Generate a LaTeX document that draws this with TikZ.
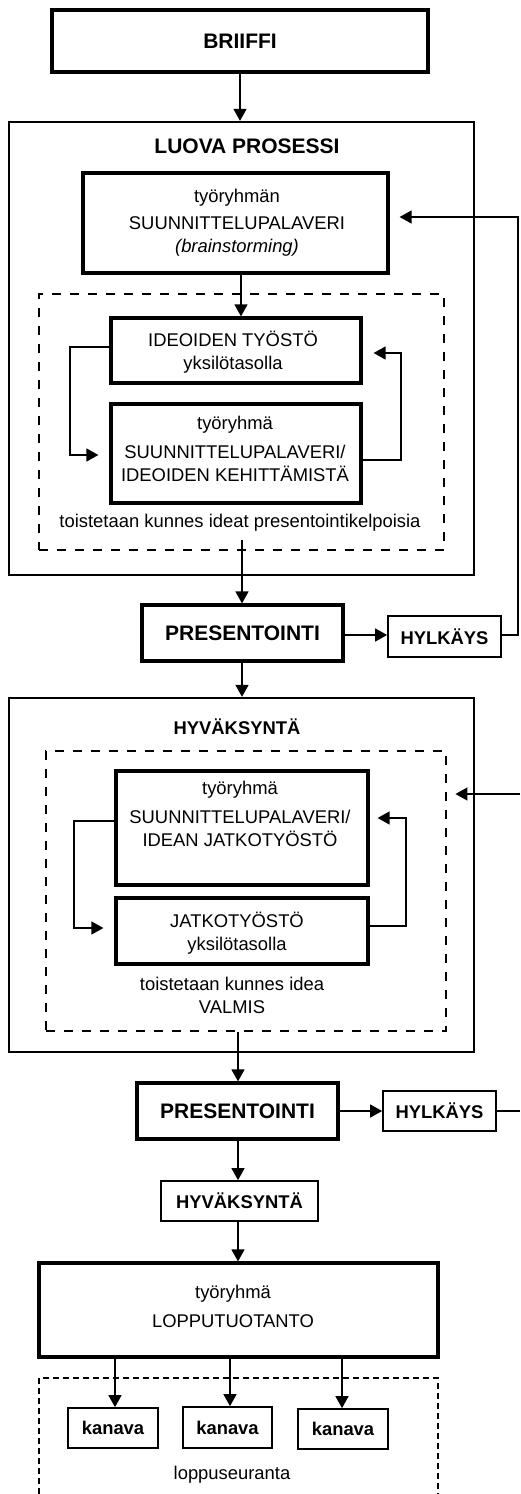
\documentclass[tikz,border=0pt]{standalone}
\usepackage{fontspec}
\setmainfont{Liberation Sans}
\usetikzlibrary{arrows.meta}
\tikzset{
  x=1pt, y=-1pt,
  txt/.style={font=\fontsize{18.4}{23}\selectfont, align=center, inner sep=0pt},
  btxt/.style={font=\bfseries\fontsize{18.4}{23}\selectfont, inner sep=0pt},
  bigtxt/.style={font=\bfseries\fontsize{21}{25}\selectfont, inner sep=0pt},
  thickbox/.style={draw, line width=3.2pt, inner sep=0pt},
  outerbox/.style={draw, line width=2.3pt, inner sep=0pt},
  thinbox/.style={draw, line width=1.7pt, inner sep=0pt},
  dashbox/.style={draw, line width=2.9pt, dash pattern=on 9pt off 9pt, inner sep=0pt},
  conn/.style={line width=1.3pt, -{Triangle[length=12pt,width=13pt]}},
  plain/.style={line width=1.3pt},
}
\begin{document}
\begin{tikzpicture}
\useasboundingbox (0,0) rectangle (520,1494);

% ---------- BRIIFFI
\node[thickbox, minimum width=376, minimum height=62, bigtxt] (brief) at (240,41) {BRIIFFI};

% ---------- LUOVA PROSESSI
\node[outerbox, minimum width=465, minimum height=453] (luova) at (241.5,348.5) {};
\node[bigtxt] (luovat) at (247,146) {LUOVA PROSESSI};
\node[thickbox, minimum width=305, minimum height=100] (tyo1) at (235.5,223) {};
\node[txt] (tyo1t) at (237,223) {työryhmän\\[4pt]SUUNNITTELUPALAVERI\\\textit{(brainstorming)}};
\node[dashbox, minimum width=405, minimum height=256] (dash1) at (241.5,422) {};
\node[thickbox, minimum width=250, minimum height=65] (ideo) at (236,350.5) {};
\node[txt] (ideot) at (233,352) {IDEOIDEN TYÖSTÖ\\yksilötasolla};
\node[thickbox, minimum width=250, minimum height=99] (keh) at (236,453.5) {};
\node[txt] (keht) at (235,449) {työryhmä\\[6pt]SUUNNITTELUPALAVERI/\\IDEOIDEN KEHITTÄMISTÄ};
\node[txt] (toist1) at (240,523) {toistetaan kunnes ideat presentointikelpoisia};

% ---------- PRESENTOINTI 1
\node[thickbox, minimum width=201, minimum height=56, bigtxt] (pres1) at (242.5,633) {PRESENTOINTI};
\node[thinbox, minimum width=113, minimum height=41, btxt] (hyl1) at (444.5,636.5) {HYLKÄYS};

% ---------- HYVÄKSYNTÄ outer
\node[outerbox, minimum width=465, minimum height=354] (hyvo) at (241.5,875) {};
\node[btxt] (hyvot) at (237,727) {HYVÄKSYNTÄ};
\node[dashbox, minimum width=400, minimum height=280] (dash2) at (246,891) {};
\node[thickbox, minimum width=252, minimum height=114] (boxA) at (242,828) {};
\node[txt] (boxAt) at (240,814) {työryhmä\\[6pt]SUUNNITTELUPALAVERI/\\IDEAN JATKOTYÖSTÖ};
\node[thickbox, minimum width=252, minimum height=66] (boxB) at (242,931) {};
\node[txt] (boxBt) at (237,933) {JATKOTYÖSTÖ\\yksilötasolla};
\node[txt] (toist2) at (232,995) {toistetaan kunnes idea\\VALMIS};

% ---------- PRESENTOINTI 2
\node[thickbox, minimum width=201, minimum height=56, bigtxt] (pres2) at (237.5,1111) {PRESENTOINTI};
\node[thinbox, minimum width=113, minimum height=40, btxt] (hyl2) at (439.5,1111) {HYLKÄYS};
\node[thinbox, minimum width=157, minimum height=40, btxt] (hyvs) at (239.5,1201) {HYVÄKSYNTÄ};

% ---------- LOPPUTUOTANTO
\node[thickbox, minimum width=399, minimum height=94] (lop) at (238.5,1310) {};
\node[txt] (lopt) at (233,1306) {työryhmä\\[6pt]LOPPUTUOTANTO};
\draw[line width=1.7pt, dash pattern=on 6pt off 4pt] (39,1494) -- (39,1378) -- (438,1378) -- (438,1494);
\node[thinbox, minimum width=90, minimum height=40, btxt] (k1) at (113,1428) {kanava};
\node[thinbox, minimum width=89, minimum height=41, btxt] (k2) at (227.5,1427.5) {kanava};
\node[thinbox, minimum width=90, minimum height=40, btxt] (k3) at (343,1429) {kanava};
\node[txt] (seur) at (232,1475) {loppuseuranta};

% ---------- coordinates
\coordinate (c240) at (240,0);
\coordinate (c241) at (241,0);
\coordinate (c242) at (242,0);
\coordinate (c238) at (238,0);
\coordinate (d1out) at (242,540);
\coordinate (ext1) at (518,635);
\coordinate (ext2) at (520,794);
\coordinate (ext3) at (520,1111);

% ---------- connectors
\draw[conn] (brief.south -| c240) -- (luova.north -| c240);
\draw[conn] (tyo1.south -| c241) -- (ideo.north -| c241);
\draw[plain, -{Triangle[length=12pt,width=13pt]}, shorten >=11pt]
  (ideo.west |- 0,347) -| (70,455) -- (keh.west |- 0,455);
\draw[plain, -{Triangle[length=12pt,width=13pt]}, shorten >=11pt]
  (keh.east |- 0,460) -| (401,353) -- (ideo.east |- 0,353);
\draw[conn] (d1out) -- (pres1.north -| d1out);
\draw[conn] (pres1.east |- 0,635) -- (hyl1.west |- 0,635);
\draw[plain, -{Triangle[length=12pt,width=13pt]}, shorten >=10pt]
  (hyl1.east |- 0,635) -- (ext1) -- (518,217) -- (tyo1.east |- 0,217);
\draw[conn] (pres1.south -| c242) -- (hyvo.north -| c242);
\draw[plain, -{Triangle[length=12pt,width=13pt]}, shorten >=11pt]
  (boxA.west |- 0,821) -| (74,928) -- (boxB.west |- 0,928);
\draw[plain, -{Triangle[length=12pt,width=13pt]}, shorten >=8pt]
  (boxB.east |- 0,926) -| (406,818) -- (boxA.east |- 0,818);
\draw[plain, -{Triangle[length=12pt,width=13pt]}, shorten >=8pt]
  (ext2) -- (dash2.east |- ext2);
\draw[conn] (dash2.south -| c238) -- (pres2.north -| c238);
\draw[conn] (pres2.east) -- (hyl2.west);
\draw[plain] (hyl2.east) -- (ext3);
\draw[conn] (pres2.south -| c238) -- (hyvs.north -| c238);
\draw[conn] (hyvs.south -| c238) -- (lop.north -| c238);
\draw[conn] (lop.south -| 115,0) -- (k1.north -| 115,0);
\draw[conn] (lop.south -| 230,0) -- (k2.north -| 230,0);
\draw[conn] (lop.south -| 342,0) -- (k3.north -| 342,0);
\end{tikzpicture}
\end{document}
